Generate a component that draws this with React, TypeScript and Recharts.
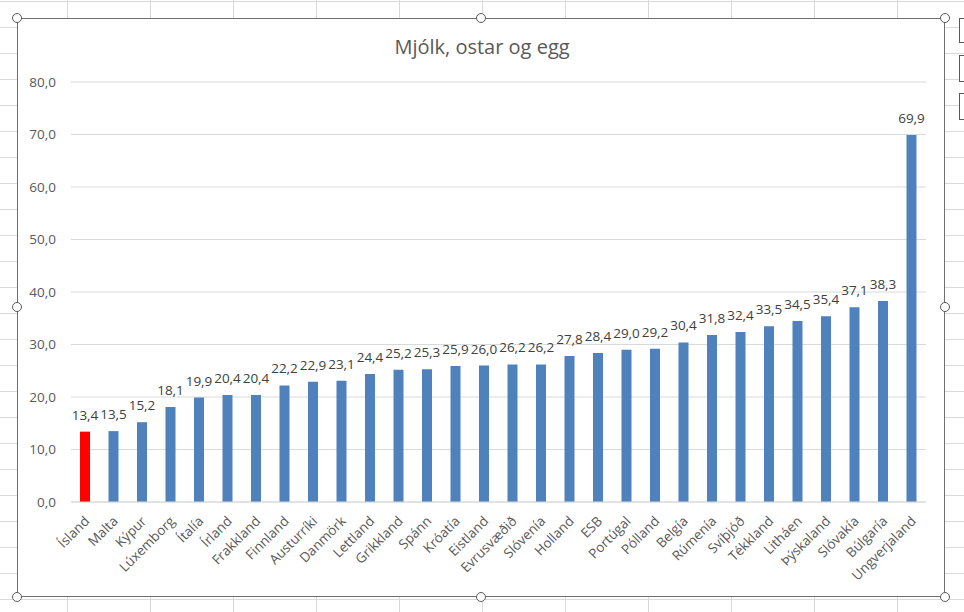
import { BarChart, Bar, XAxis, YAxis, CartesianGrid, Cell, LabelList } from "recharts";

const countries = [
  "Ísland", "Malta", "Kýpur", "Lúxemborg", "Ítalía", "Írland", "Frakkland", "Finnland",
  "Austurríki", "Danmörk", "Lettland", "Grikkland", "Spánn", "Króatía", "Eistland",
  "Evrusvæðið", "Slóvenía", "Holland", "ESB", "Portúgal", "Pólland", "Belgía", "Rúmenía",
  "Svíþjóð", "Tékkland", "Litháen", "Þýskaland", "Slóvakía", "Búlgaría", "Ungverjaland",
];

const values = [
  13.4, 13.5, 15.2, 18.1, 19.9, 20.4, 20.4, 22.2, 22.9, 23.1, 24.4, 25.2, 25.3, 25.9, 26.0,
  26.2, 26.2, 27.8, 28.4, 29.0, 29.2, 30.4, 31.8, 32.4, 33.5, 34.5, 35.4, 37.1, 38.3, 69.9,
];

const yTicks = [0, 10, 20, 30, 40, 50, 60, 70, 80];

const highlight = "Ísland";

const data = countries.map((name, i) => ({ name, value: values[i] }));

const FONT = "'Open Sans', 'Noto Sans', sans-serif";
const fmt = (v: number) => v.toFixed(1).replace(".", ",");

const XTick = (props: any) => {
  const { x, y, payload } = props;
  const ax = x + 5;
  const ay = y + 12;
  return (
    <text
      x={ax}
      y={ay}
      transform={`rotate(-45, ${ax}, ${ay})`}
      textAnchor="end"
      fill="#595959"
      fontSize={13.5}
      fontFamily={FONT}
    >
      {payload.value}
    </text>
  );
};

const handles = [
  [17, 18], [481, 18], [945, 18],
  [17, 307], [945, 307],
  [17, 597], [481, 597], [945, 597],
];

const App = () => {
  return (
    <div
      style={{
        position: "absolute",
        left: 0,
        top: 0,
        width: 964,
        height: 612,
        overflow: "hidden",
        background: "#ffffff",
        backgroundImage:
          "linear-gradient(to right, #d9d9d9 1px, transparent 1px), linear-gradient(to bottom, #d9d9d9 1px, transparent 1px)",
        backgroundSize: "83px 26px",
        backgroundPosition: "67px 1px",
      }}
    >
      {/* chart frame */}
      <div
        style={{
          position: "absolute",
          left: 17,
          top: 18,
          width: 928,
          height: 579,
          background: "#ffffff",
          border: "1px solid #6f6f6f",
          boxSizing: "border-box",
        }}
      >
        <div
          style={{
            position: "absolute",
            left: 0,
            top: 14,
            width: 928,
            textAlign: "center",
            fontFamily: FONT,
            fontSize: 20,
            color: "#595959",
          }}
        >
          Mjólk, ostar og egg
        </div>
        <div style={{ position: "absolute", left: -1, top: -1 }}>
          <BarChart
            width={928}
            height={579}
            data={data}
            margin={{ top: 64, right: 19, bottom: 5, left: 0 }}
            barCategoryGap={0}
          >
            <CartesianGrid vertical={false} stroke="#d9d9d9" />
            <XAxis
              dataKey="name"
              interval={0}
              height={90}
              tickLine={false}
              axisLine={{ stroke: "#d9d9d9" }}
              tick={<XTick />}
            />
            <YAxis
              domain={[0, 80]}
              ticks={yTicks}
              width={54}
              tickLine={false}
              axisLine={false}
              tickSize={0}
              tickMargin={15}
              tickFormatter={fmt}
              tick={{ fill: "#595959", fontSize: 13.5, fontFamily: FONT }}
            />
            <Bar dataKey="value" barSize={10} isAnimationActive={false}>
              {data.map((d) => (
                <Cell key={d.name} fill={d.name === highlight ? "#ff0000" : "#4f81bd"} />
              ))}
              <LabelList
                dataKey="value"
                position="top"
                offset={12}
                formatter={(v: any) => fmt(Number(v))}
                style={{ fill: "#404040", fontSize: 13.5, fontFamily: FONT }}
              />
            </Bar>
          </BarChart>
        </div>
      </div>

      {handles.map(([hx, hy], i) => (
        <div
          key={i}
          style={{
            position: "absolute",
            left: hx - 5,
            top: hy - 5,
            width: 10,
            height: 10,
            borderRadius: "50%",
            border: "1.5px solid #595959",
            background: "#ffffff",
            boxSizing: "border-box",
          }}
        />
      ))}

      {[[18, 25], [55, 27], [93, 27]].map(([by, bh], i) => (
        <div
          key={"b" + i}
          style={{
            position: "absolute",
            left: 959,
            top: by,
            width: 12,
            height: bh,
            border: "1px solid #595959",
            background: "#ffffff",
            boxSizing: "border-box",
          }}
        />
      ))}
    </div>
  );
};

export default App;
